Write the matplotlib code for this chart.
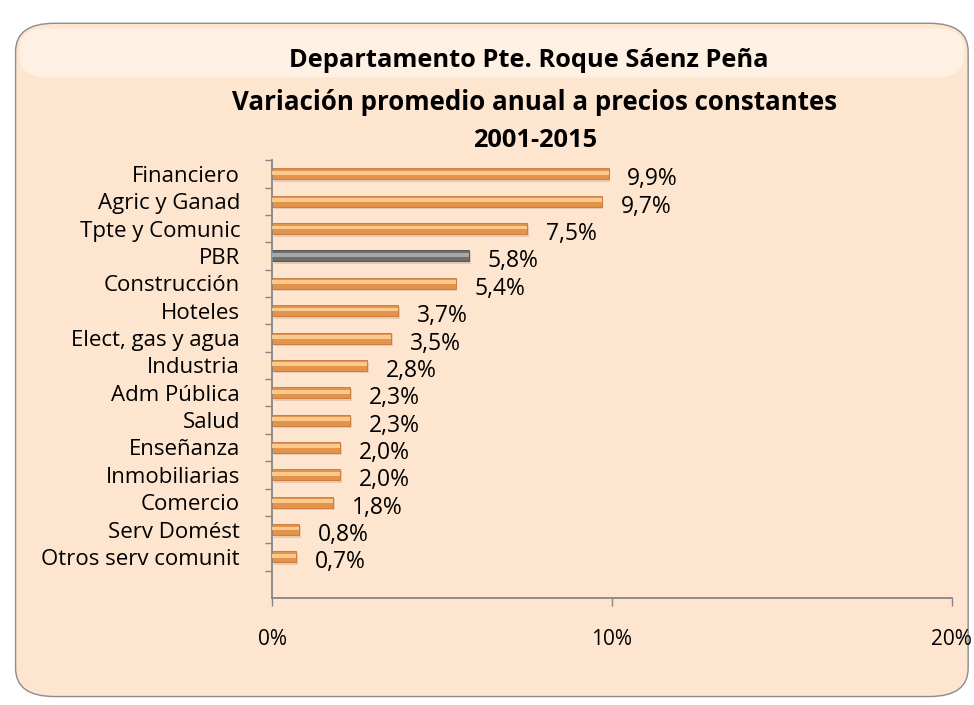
import numpy as np
import matplotlib.pyplot as plt
from matplotlib.patches import FancyBboxPatch
from matplotlib.ticker import FixedLocator

plt.rcParams['font.family'] = ['Liberation Sans Narrow', 'Open Sans', 'DejaVu Sans']

sectors = ['Financiero', 'Agric y Ganad', 'Tpte y Comunic', 'PBR', 'Construcción',
           'Hoteles', 'Elect, gas y agua', 'Industria', 'Adm Pública', 'Salud',
           'Enseñanza', 'Inmobiliarias', 'Comercio', 'Serv Domést', 'Otros serv comunit']
values = [9.9, 9.7, 7.5, 5.8, 5.4, 3.7, 3.5, 2.8, 2.3, 2.3, 2.0, 2.0, 1.8, 0.8, 0.7]
value_labels = ['9,9%', '9,7%', '7,5%', '5,8%', '5,4%', '3,7%', '3,5%', '2,8%', '2,3%',
                '2,3%', '2,0%', '2,0%', '1,8%', '0,8%', '0,7%']
highlight = 'PBR'

fig = plt.figure(figsize=(9.74, 7.05), dpi=100)
fig.patch.set_facecolor('white')

# background axes holding the rounded peach panel
bg_ax = fig.add_axes([0, 0, 1, 1], zorder=-1)
bg_ax.set_xlim(0, 1)
bg_ax.set_ylim(0, 1)
bg_ax.axis('off')
bg_ax.add_patch(FancyBboxPatch((0.016, 0.012), 0.978, 0.955,
                               boxstyle='round,pad=0,rounding_size=0.04',
                               facecolor='#FDE5CF', edgecolor='#8C8C8C', linewidth=1.0))
bg_ax.add_patch(FancyBboxPatch((0.02, 0.89), 0.97, 0.07,
                               boxstyle='round,pad=0,rounding_size=0.03',
                               facecolor='#FFF3E8', edgecolor='none', alpha=0.8))

ax = fig.add_axes([0.2793, 0.1518, 0.698, 0.621])
ax.set_facecolor('none')

y = np.arange(len(sectors))
base_col = ['#6E6E6E' if s == highlight else '#E4944A' for s in sectors]
light_col = ['#A8A8A8' if s == highlight else '#F9C98E' for s in sectors]
edge_col = ['#4A4A4A' if s == highlight else '#C8743A' for s in sectors]

# shadow, body and highlight stripe to mimic the cylinder look
ax.barh(y + 0.08, values, height=0.42, left=0.05, color='#D9B79A', alpha=0.6, zorder=1)
ax.barh(y, values, height=0.4, color=base_col, edgecolor=edge_col, linewidth=0.6, zorder=2)
ax.barh(y - 0.04, values, height=0.14, color=light_col, zorder=3)

for yi, v, lab in zip(y, values, value_labels):
    ax.text(v + 0.55, yi + 0.2, lab, fontsize=16.5, ha='left', va='center', color='black')

ax.set_xlim(0, 20)
ax.set_ylim(15.5, -0.5)
ax.set_xticks([0, 10, 20])
ax.set_xticklabels(['0%', '10%', '20%'], fontsize=15)
ax.set_yticks(y)
ax.set_yticklabels(sectors, fontsize=16)
ax.tick_params(axis='y', length=0, pad=23)
ax.yaxis.set_minor_locator(FixedLocator(np.arange(-0.5, 15.5, 1)))
ax.tick_params(axis='y', which='minor', length=5, color='#868686', width=1)
ax.tick_params(axis='x', length=6, width=1, color='#868686', pad=16)

for side in ['top', 'right']:
    ax.spines[side].set_visible(False)
for side in ['left', 'bottom']:
    ax.spines[side].set_color('#868686')
    ax.spines[side].set_linewidth(1.3)

fig.text(0.543, 0.914, 'Departamento Pte. Roque Sáenz Peña', ha='center', va='center',
         fontsize=18.3, fontweight='bold')
fig.text(0.549, 0.854, 'Variación promedio anual a precios constantes', ha='center', va='center',
         fontsize=18.6, fontweight='bold')
fig.text(0.549, 0.801, '2001-2015', ha='center', va='center', fontsize=18.3, fontweight='bold')

plt.savefig('out.png', dpi=100)
plt.close()
